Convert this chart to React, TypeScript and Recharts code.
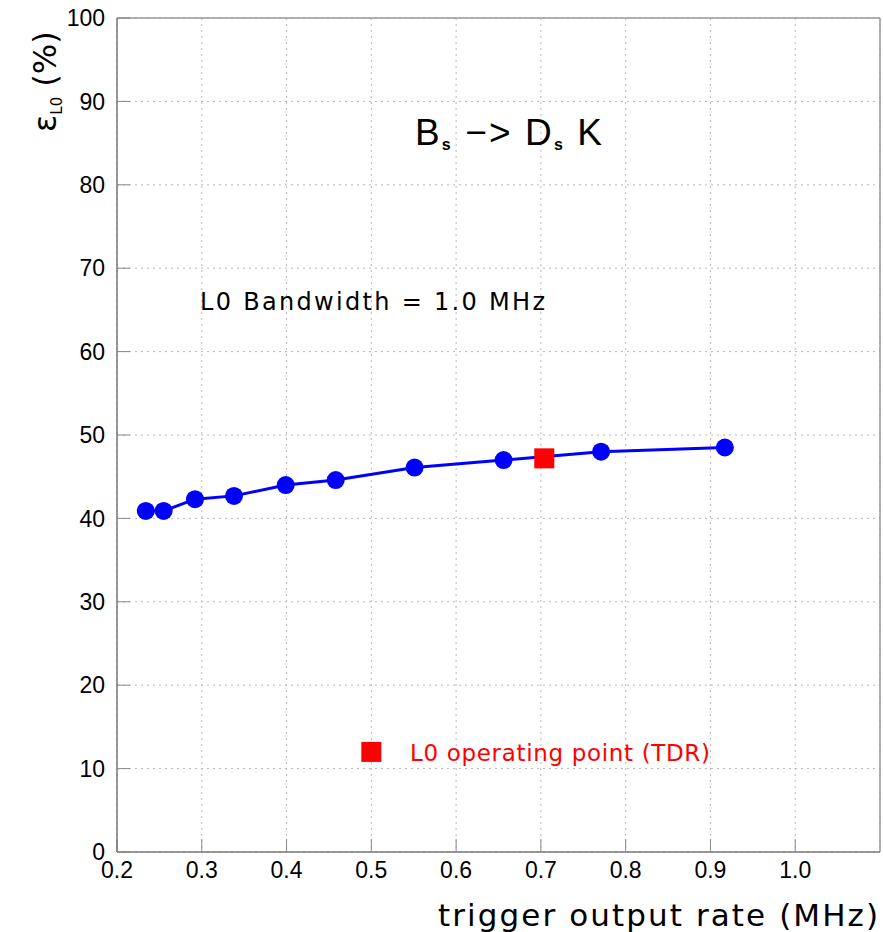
import React from 'react';
import {
	ComposedChart,
	Line,
	Scatter,
	XAxis,
	YAxis,
	CartesianGrid,
	ReferenceLine
} from 'recharts';

// L0 efficiency vs trigger output rate, Bs -> Ds K
const rateMHz = [0.234, 0.255, 0.292, 0.338, 0.399, 0.458, 0.551, 0.656, 0.771, 0.917];
const effL0 = [40.9, 40.9, 42.3, 42.7, 44.0, 44.6, 46.1, 47.0, 48.0, 48.5];

// TDR operating point and the legend marker
const tdrRate = [0.704];
const tdrEff = [47.2];
const legendRate = [0.5];
const legendEff = [12];

const xTicks = [0.2, 0.3, 0.4, 0.5, 0.6, 0.7, 0.8, 0.9, 1.0];
const yTicks = [0, 10, 20, 30, 40, 50, 60, 70, 80, 90, 100];

const curve = rateMHz.map((x, i) => ({ x, y: effL0[i] }));
const tdr = tdrRate.map((x, i) => ({ x, y: tdrEff[i] }));
const legendMark = legendRate.map((x, i) => ({ x, y: legendEff[i] }));

const BLUE = '#0000ff';
const RED = '#ff0000';
const tickFont = { fontFamily: 'Liberation Sans', fontSize: 23, fill: '#000' };
const labelFont = 'DejaVu Sans';

const Square = (props: any) => {
	const { cx, cy } = props;
	return <rect x={cx - 10} y={cy - 10} width={20} height={20} fill={RED} />;
};

const App: React.FC = () => {
	return (
		<div style={{ position: 'absolute', left: 0, top: 0 }}>
			<ComposedChart
				width={883}
				height={932}
				margin={{ top: 18, right: 3, left: 0, bottom: 0 }}
			>
				<CartesianGrid stroke="#b8b8b8" strokeDasharray="2 4" />
				<XAxis
					type="number"
					dataKey="x"
					domain={[0.2, 1.1]}
					ticks={xTicks}
					tickFormatter={(v: number) => v.toFixed(1)}
					height={80}
					tickSize={-13}
					tickMargin={23}
					tick={tickFont}
					axisLine={{ stroke: '#777', strokeWidth: 1.5 }}
					tickLine={{ stroke: '#888' }}
					allowDataOverflow
				/>
				<YAxis
					type="number"
					domain={[0, 100]}
					ticks={yTicks}
					width={117}
					tickSize={-13}
					tickMargin={25}
					tick={tickFont}
					axisLine={{ stroke: '#777', strokeWidth: 1.5 }}
					tickLine={{ stroke: '#888' }}
					allowDataOverflow
				/>
				<ReferenceLine y={100} stroke="#999" strokeWidth={1.5} />
				<ReferenceLine x={1.1} stroke="#999" strokeWidth={1.5} />
				<Scatter data={tdr} dataKey="y" shape={Square} isAnimationActive={false} />
				<Scatter data={legendMark} dataKey="y" shape={Square} isAnimationActive={false} />
				<Line
					data={curve}
					dataKey="y"
					type="linear"
					stroke={BLUE}
					strokeWidth={3}
					dot={{ r: 9, fill: BLUE, stroke: 'none' }}
					activeDot={false}
					isAnimationActive={false}
				/>

				<text x={415} y={145} fontFamily="Liberation Sans" fontSize={37} fill="#000" textLength={187}>
					B<tspan fontSize={16} fontWeight="bold" dy={5}>s</tspan>
					<tspan dy={-5}>  −&gt; D</tspan>
					<tspan fontSize={16} fontWeight="bold" dy={5}>s</tspan>
					<tspan dy={-5}> K</tspan>
				</text>
				<text x={200} y={310} fontFamily={labelFont} fontSize={24} fill="#000" textLength={345}>
					L0 Bandwidth = 1.0 MHz
				</text>
				<text x={410} y={761} fontFamily={labelFont} fontSize={23} fill={RED} textLength={300}>
					L0 operating point (TDR)
				</text>
				<text x={878} y={926} textAnchor="end" fontFamily={labelFont} fontSize={31} fill="#000" textLength={440}>
					trigger output rate (MHz)
				</text>
				<text
					transform="translate(56, 132) rotate(-90)"
					fontFamily={labelFont}
					fontSize={32}
					fill="#000"
				>
					ε<tspan fontSize={15} dy={6}>L0</tspan>
					<tspan dy={-6}> (%)</tspan>
				</text>
			</ComposedChart>
		</div>
	);
};

export default App;
